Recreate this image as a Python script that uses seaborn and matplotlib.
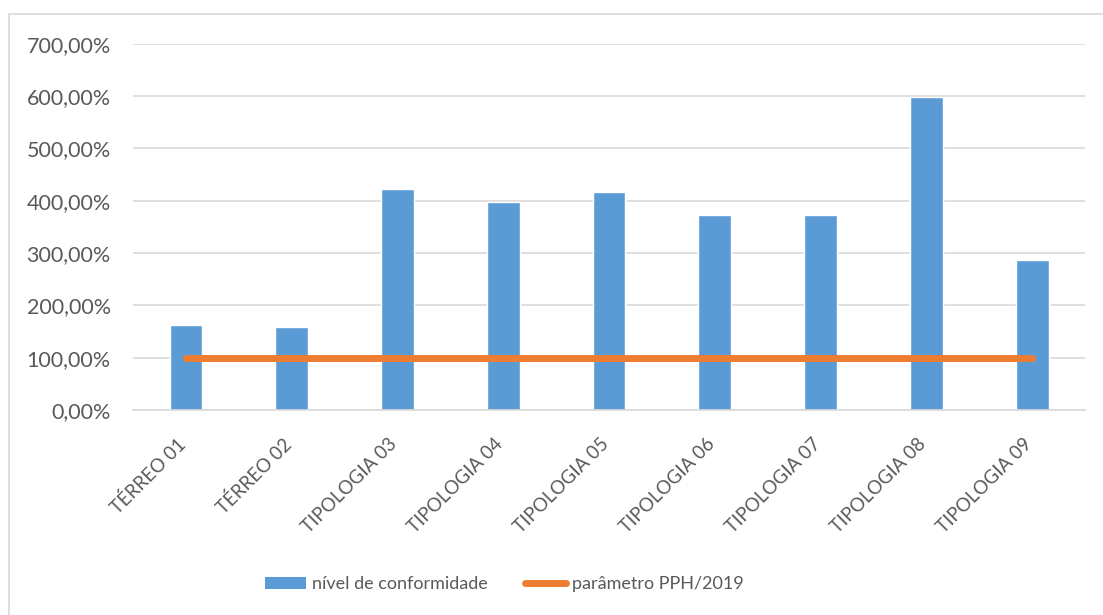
import matplotlib
matplotlib.use("Agg")
import matplotlib.pyplot as plt
import matplotlib.transforms as mtransforms
import seaborn as sns
import pandas as pd
from matplotlib.ticker import FuncFormatter, MultipleLocator
from matplotlib.patches import Patch
from matplotlib.lines import Line2D

categories = ["TÉRREO 01", "TÉRREO 02", "TIPOLOGIA 03", "TIPOLOGIA 04", "TIPOLOGIA 05",
              "TIPOLOGIA 06", "TIPOLOGIA 07", "TIPOLOGIA 08", "TIPOLOGIA 09"]
conformidade = [1.63, 1.59, 4.23, 3.97, 4.16, 3.72, 3.73, 5.99, 2.86]
parametro = [1.0, 1.0, 1.0, 1.0, 1.0, 1.0, 1.0, 1.0, 1.0]

blue = "#5B9BD5"
orange = "#ED7D31"
grey_text = "#595959"
grid_col = "#D9D9D9"

sns.set_theme(style="white")
plt.rcParams["font.family"] = ["Lato", "DejaVu Sans"]

df = pd.DataFrame({"cat": categories, "val": conformidade})

fig = plt.figure(figsize=(11.03, 6.15), dpi=100)
ax = fig.add_axes([0.1206, 0.3333, 0.8631, 0.5957])

sns.barplot(data=df, x="cat", y="val", color=blue, width=0.31, saturation=1, ax=ax)
ax.plot(range(len(categories)), parametro, color=orange, lw=5, solid_capstyle="round")

ax.set_ylim(0, 7)
ax.set_xlim(-0.5, len(categories) - 0.5)
ax.yaxis.set_major_locator(MultipleLocator(1))
ax.yaxis.set_major_formatter(FuncFormatter(lambda v, p: f"{v * 100:.2f}".replace(".", ",") + "%"))
ax.grid(axis="y", color=grid_col, lw=1.2)
ax.set_axisbelow(True)
for s in ["top", "right", "left"]:
    ax.spines[s].set_visible(False)
ax.spines["bottom"].set_color(grid_col)
ax.spines["bottom"].set_linewidth(1.2)
ax.tick_params(axis="both", length=0, colors=grey_text)
ax.tick_params(axis="y", pad=16, labelsize=15.5)
ax.tick_params(axis="x", pad=18, labelsize=13.5)
ax.set_xlabel("")
ax.set_ylabel("")
# shift rotated labels a bit left so their upper end sits over the bar
shift = mtransforms.ScaledTranslation(-9 / 100, 0, fig.dpi_scale_trans)
for lbl in ax.get_xticklabels():
    lbl.set_rotation(45)
    lbl.set_ha("right")
    lbl.set_va("top")
    lbl.set_rotation_mode("anchor")
    lbl.set_transform(lbl.get_transform() + shift)

handles = [Patch(facecolor=blue, edgecolor="none"),
           Line2D([0], [0], color=orange, lw=5, solid_capstyle="round")]
fig.legend(handles, ["nível de conformidade", "parâmetro PPH/2019"], loc="center",
           bbox_to_anchor=(0.457, 0.05), ncol=2, frameon=False, fontsize=13,
           labelcolor=grey_text, columnspacing=2.05, handlelength=2.3, handletextpad=0.3)

# outer chart frame (left and top edges visible in the reference)
fig.add_artist(Line2D([0.0085, 0.0085], [0, 0.977], transform=fig.transFigure, color=grid_col, lw=1.2))
fig.add_artist(Line2D([0.0085, 1.0], [0.977, 0.977], transform=fig.transFigure, color=grid_col, lw=1.2))

fig.savefig("out.png", dpi=100)
